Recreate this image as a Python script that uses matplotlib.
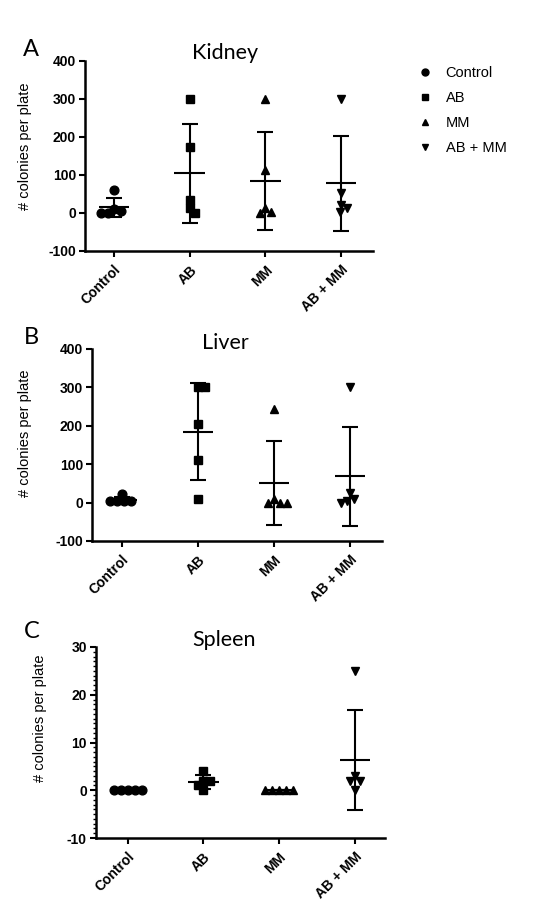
import numpy as np
import matplotlib
matplotlib.use("Agg")
import matplotlib.pyplot as plt
from matplotlib.lines import Line2D

# ---------------- data ----------------
groups = ["Control", "AB", "MM", "AB + MM"]
markers = ["o", "s", "^", "v"]

kidney_control = [60, 10, 5, 0, 0]
kidney_ab = [300, 175, 35, 12, 0]
kidney_mm = [300, 113, 12, 2, 0]
kidney_abmm = [300, 53, 21, 13, 3]

liver_control = [22, 5, 3, 5, 3]
liver_ab = [300, 300, 205, 110, 10]
liver_mm = [245, 10, 0, 0, 0]
liver_abmm = [300, 25, 10, 5, 0]

spleen_control = [0, 0, 0, 0, 0]
spleen_ab = [4, 2, 2, 1, 0]
spleen_mm = [0, 0, 0, 0, 0]
spleen_abmm = [25, 3, 2, 2, 0]

panels = [
    ("A", "Kidney", [kidney_control, kidney_ab, kidney_mm, kidney_abmm], (-100, 400), [-100, 0, 100, 200, 300, 400]),
    ("B", "Liver", [liver_control, liver_ab, liver_mm, liver_abmm], (-100, 400), [-100, 0, 100, 200, 300, 400]),
    ("C", "Spleen", [spleen_control, spleen_ab, spleen_mm, spleen_abmm], (-10, 30), [-10, 0, 10, 20, 30]),
]

# ---------------- layout (pixels) ----------------
W, H = 549, 919
boxes = [(85, 373, 61, 251), (92, 382, 349, 541), (96, 385, 647, 838)]
letter_pos = [(31, 49), (31, 338), (32, 632)]
title_pos = [(225, 53), (225, 343), (224, 640)]
ylabel_pos = [(32, 146), (32, 433), (47, 718)]
xlims = [(-0.38, 3.42), (-0.39, 3.42), (-0.42, 3.40)]

fig = plt.figure(figsize=(W / 100, H / 100), dpi=100)
fig.patch.set_facecolor("white")

TICKFONT = dict(family=["Liberation Sans", "DejaVu Sans"], weight="bold", size=10)
TITLEFONT = ["Lato", "DejaVu Sans"]
LABELFONT = ["Liberation Sans", "DejaVu Sans"]


def swarm(vals, ppx, ppy, d):
    placed = []
    offs = []
    for v in vals:
        y = v * ppy
        cands = [0.0]
        for (px, py) in placed:
            dy = abs(y - py)
            if dy < d:
                dx = np.sqrt(d * d - dy * dy)
                cands += [px + dx, px - dx]
        cands.sort(key=lambda c: (abs(c), -c))
        chosen = cands[-1]
        for c in cands:
            if all((c - px) ** 2 + (y - py) ** 2 >= d * d - 1e-6 for px, py in placed):
                chosen = c
                break
        placed.append((chosen, y))
        offs.append(chosen / ppx)
    return np.array(offs)


for k, (letter, title, data, ylim, yticks) in enumerate(panels):
    l, r, t, b = boxes[k]
    ax = fig.add_axes([l / W, 1 - b / H, (r - l) / W, (b - t) / H])
    ax.set_xlim(*xlims[k])
    ax.set_ylim(*ylim)
    ppx = (r - l) / (xlims[k][1] - xlims[k][0])
    ppy = (b - t) / (ylim[1] - ylim[0])

    for i, vals in enumerate(data):
        vals = np.asarray(vals, dtype=float)
        mean = vals.mean()
        sd = vals.std(ddof=1)
        offs = swarm(vals, ppx, ppy, 7.0)
        ax.plot(i + offs, vals, linestyle="none", marker=markers[i], color="black",
                markersize=6.3, zorder=3, clip_on=False)
        ax.errorbar(i, mean, yerr=sd, fmt="none", ecolor="black", elinewidth=1.5,
                    capsize=6, capthick=1.5, zorder=4)
        ax.hlines(mean, i - 0.2, i + 0.2, color="black", linewidth=1.5, zorder=4)

    for s in ["top", "right"]:
        ax.spines[s].set_visible(False)
    for s in ["left", "bottom"]:
        ax.spines[s].set_linewidth(1.8)
    ax.spines["bottom"].set_position(("data", ylim[0]))

    ax.set_xticks(range(len(groups)))
    ax.set_xticklabels(groups, rotation=45, ha="right", rotation_mode="anchor",
                       fontdict=TICKFONT)
    ax.set_yticks(yticks)
    ax.set_yticklabels([str(v) for v in yticks], fontdict=TICKFONT)
    ax.tick_params(axis="both", direction="out", length=4.5, width=1.5, pad=2)
    ax.tick_params(axis="x", pad=4)
    if letter == "C":
        ax.set_yticks(np.arange(ylim[0], ylim[1] + 1, 1), minor=True)
        ax.tick_params(axis="y", which="minor", direction="out", length=2.5, width=1.0)

    ax.set_ylabel("# colonies per plate", family=LABELFONT, size=10.5)
    lx, ly = ylabel_pos[k]
    ax.yaxis.set_label_coords(lx / W, 1 - ly / H, transform=fig.transFigure)

    tx, ty = title_pos[k]
    fig.text(tx / W, 1 - ty / H, title, family=TITLEFONT, size=15.5, ha="center", va="center")
    px_, py_ = letter_pos[k]
    fig.text(px_ / W, 1 - py_ / H, letter, family=TITLEFONT, size=17, ha="center", va="center")

handles = [Line2D([], [], linestyle="none", marker=m, color="black", markersize=5) for m in markers]
fig.legend(handles, groups, loc="upper left", bbox_to_anchor=(418 / W, 1 - 66 / H),
           frameon=False, prop=dict(family=LABELFONT, size=10.5), handlelength=1.0,
           handletextpad=0.9, labelspacing=0.75, borderpad=0, borderaxespad=0)

fig.savefig("out.png", dpi=100, facecolor="white")
